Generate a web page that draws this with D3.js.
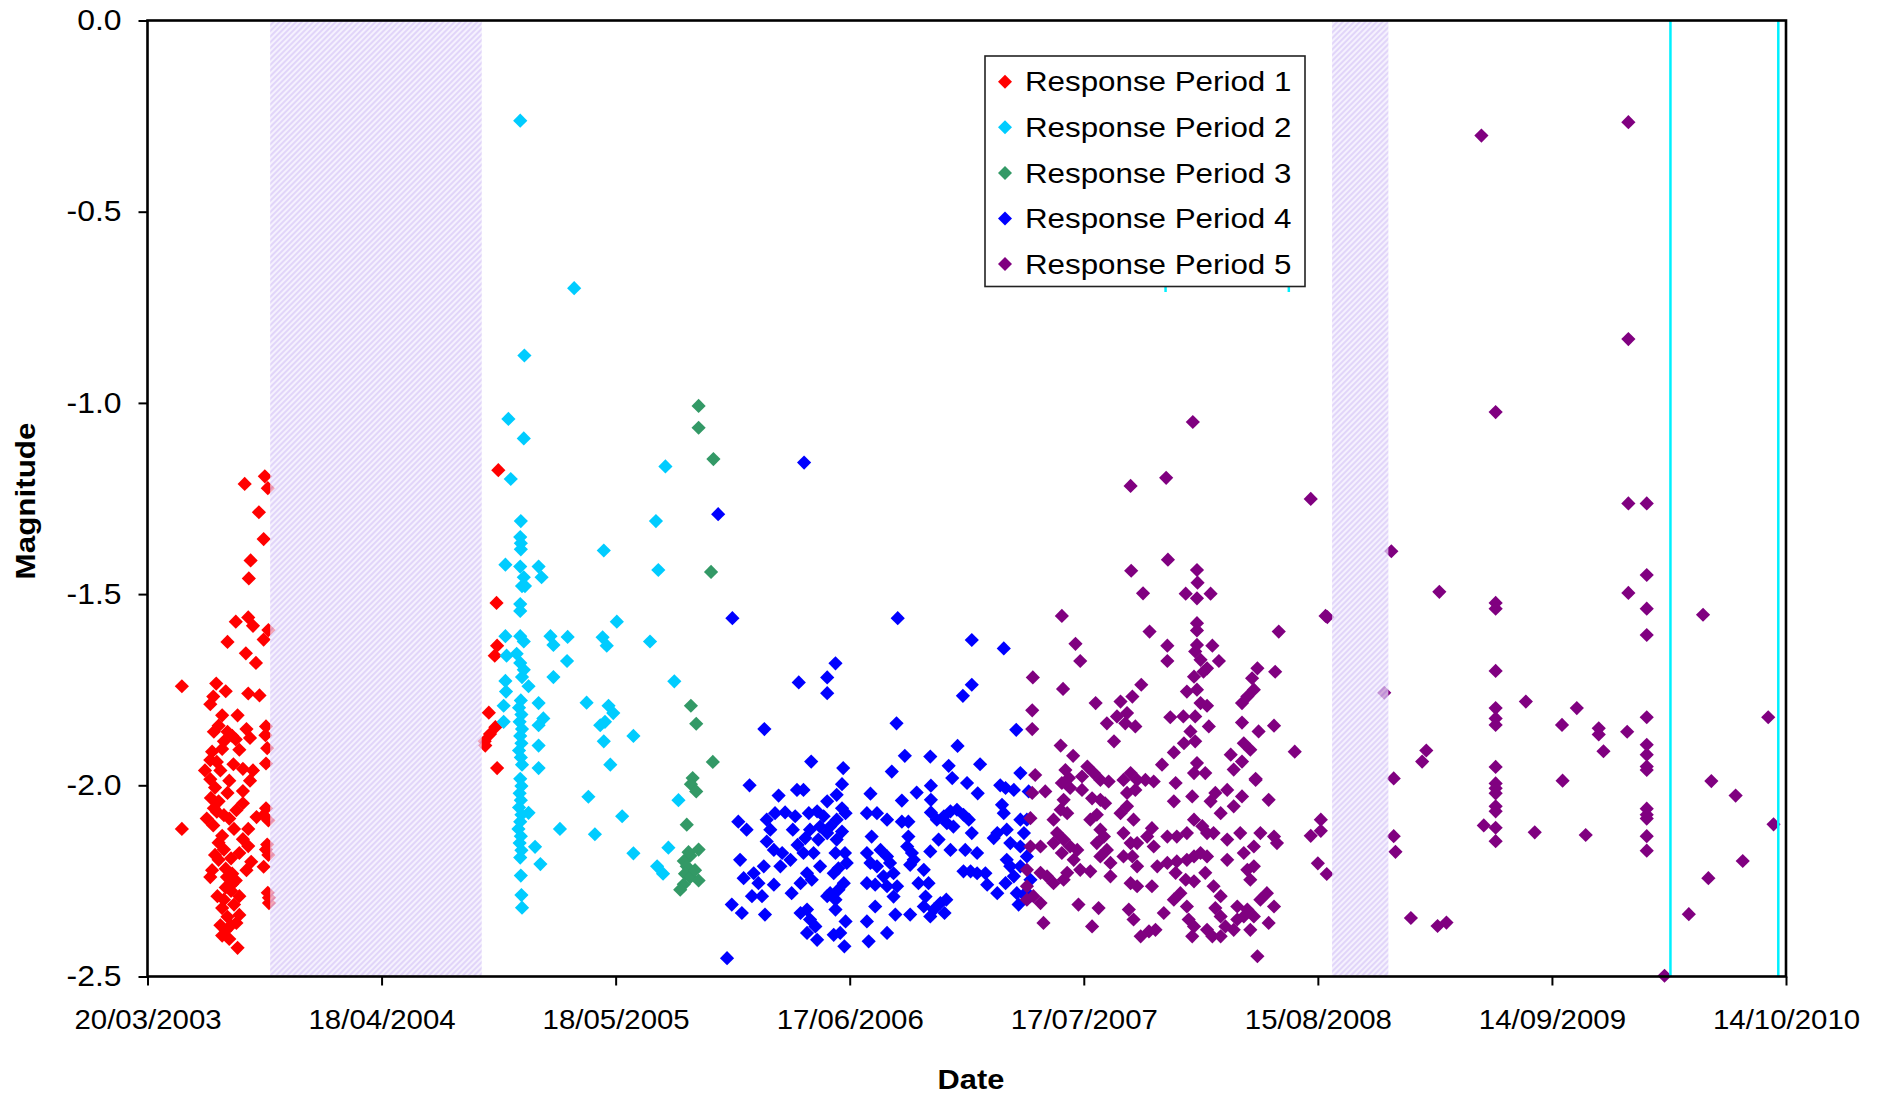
<!DOCTYPE html>
<html><head><meta charset="utf-8">
<script src="https://cdn.jsdelivr.net/npm/d3@7"></script>
<style>body{margin:0;background:#fff}svg{display:block}</style>
</head><body><svg id="c" width="1879" height="1097"></svg>
<script>
// ---- DATA (x = Excel serial date, y = magnitude) ----
const seriesNames = ["Response Period 1","Response Period 2","Response Period 3","Response Period 4","Response Period 5"];
const seriesColors = ["#ff0000","#00ccff","#339966","#0000ff","#800080"];
const xTickLabels = ["20/03/2003","18/04/2004","18/05/2005","17/06/2006","17/07/2007","15/08/2008","14/09/2009","14/10/2010"];
const yTickValues = [0,-0.5,-1,-1.5,-2,-2.5];
const shadedPeriods = [[37907,38264],[39699,39794]];
const cyanLines = [40270,40452];
const cyanMarks = [39418,39626];

const rp1 = [[37864,-1.212],[37898,-1.192],[37903,-1.223],[37888,-1.286],[37896,-1.356],[37874,-1.412],[37871,-1.459],[37849,-1.572],[37870,-1.561],[37878,-1.583],[37904,-1.594],[37896,-1.619],[37835,-1.625],[37866,-1.655],[37883,-1.680],[37758,-1.741],[37816,-1.734],[37832,-1.754],[37811,-1.768],[37806,-1.788],[37870,-1.760],[37889,-1.765],[37826,-1.817],[37852,-1.817],[37835,-1.860],[37867,-1.853],[37873,-1.876],[37900,-1.846],[37899,-1.869],[37829,-1.885],[37849,-1.880],[37809,-1.912],[37902,-1.903],[37900,-1.943],[37806,-1.934],[37823,-1.961],[37861,-1.957],[37873,-1.988],[37806,-1.984],[37814,-2.006],[37835,-2.020],[37807,-2.033],[37861,-2.047],[37800,-2.087],[37817,-2.069],[37829,-2.078],[37900,-2.060],[37884,-2.083],[37904,-2.092],[37758,-2.114],[37846,-2.114],[37870,-2.114],[37826,-2.132],[37861,-2.141],[37870,-2.159],[37902,-2.155],[37904,-2.182],[37829,-2.168],[37841,-2.191],[37875,-2.200],[37896,-2.213],[37809,-2.222],[37806,-2.240],[37832,-2.218],[37843,-2.231],[37867,-2.222],[37849,-2.249],[37841,-2.276],[37855,-2.290],[37829,-2.299],[37903,-2.281],[37905,-2.308],[37826,-2.321],[37835,-2.344],[37855,-2.339],[37841,-2.366],[37826,-2.393],[37838,-2.402],[37852,-2.425],[37820,-1.844],[37843,-1.871],[37855,-1.907],[37817,-1.939],[37838,-1.988],[37820,-2.042],[37811,-2.105],[37838,-2.087],[37820,-2.150],[37855,-2.177],[37820,-2.195],[37843,-2.258],[37832,-2.267],[37823,-2.366],[37846,-2.312],[37905,-2.294],[37900,-2.168],[37896,-2.078],[37861,-2.015],[37878,-1.961],[37797,-1.961],[37812,-1.860],[37826,-1.905],[37845,-1.945],[37812,-2.060],[37850,-2.065],[37814,-2.182],[37834,-2.240],[37818,-2.290],[37850,-2.360],[37832,-2.380],[38292,-1.176],[38289,-1.523],[38290,-1.635],[38286,-1.661],[38276,-1.810],[38287,-1.848],[38278,-1.866],[38269,-1.885],[38270,-1.896],[38290,-1.955]];

const rp2 = [[38329,-0.262],[38420,-0.700],[38336,-0.876],[38309,-1.042],[38335,-1.093],[38313,-1.199],[38574,-1.166],[38330,-1.309],[38329,-1.351],[38330,-1.367],[38330,-1.383],[38304,-1.423],[38329,-1.428],[38360,-1.428],[38365,-1.456],[38335,-1.456],[38332,-1.479],[38337,-1.479],[38329,-1.526],[38329,-1.544],[38470,-1.386],[38558,-1.309],[38562,-1.437],[38492,-1.572],[38304,-1.610],[38329,-1.610],[38335,-1.624],[38380,-1.610],[38385,-1.633],[38409,-1.612],[38468,-1.613],[38475,-1.635],[38548,-1.624],[38306,-1.661],[38323,-1.656],[38329,-1.680],[38335,-1.698],[38332,-1.717],[38343,-1.741],[38408,-1.675],[38385,-1.717],[38304,-1.727],[38305,-1.755],[38589,-1.728],[38301,-1.792],[38301,-1.834],[38360,-1.785],[38441,-1.784],[38478,-1.792],[38486,-1.811],[38464,-1.843],[38472,-1.834],[38368,-1.825],[38360,-1.843],[38520,-1.871],[38470,-1.885],[38360,-1.896],[38481,-1.946],[38360,-1.955],[38330,-1.778],[38327,-1.797],[38331,-1.815],[38328,-1.834],[38332,-1.853],[38329,-1.871],[38331,-1.890],[38327,-1.909],[38330,-1.927],[38332,-1.946],[38329,-1.983],[38331,-2.002],[38328,-2.021],[38330,-2.039],[38327,-2.058],[38331,-2.077],[38329,-2.095],[38326,-2.114],[38330,-2.133],[38328,-2.151],[38331,-2.170],[38329,-2.189],[38330,-2.236],[38331,-2.287],[38332,-2.320],[38343,-2.072],[38444,-2.030],[38396,-2.114],[38455,-2.128],[38501,-2.081],[38354,-2.161],[38363,-2.206],[38520,-2.178],[38579,-2.163],[38560,-2.212],[38570,-2.231],[38596,-2.039]];

const rp3 = [[38630,-1.008],[38630,-1.065],[38655,-1.147],[38651,-1.442],[38617,-1.792],[38626,-1.839],[38654,-1.939],[38620,-1.981],[38617,-1.997],[38626,-2.016],[38610,-2.103],[38630,-2.168],[38616,-2.184],[38605,-2.198],[38610,-2.212],[38607,-2.231],[38616,-2.240],[38630,-2.249],[38605,-2.259],[38599,-2.273],[38613,-2.175],[38624,-2.222]];

const rp4 = [[38808,-1.156],[38663,-1.291],[38687,-1.563],[38966,-1.563],[39091,-1.620],[39145,-1.642],[38861,-1.681],[38799,-1.731],[38847,-1.718],[38847,-1.759],[38741,-1.853],[38964,-1.838],[39091,-1.737],[39076,-1.766],[39166,-1.855],[39067,-1.897],[38820,-1.938],[38874,-1.955],[38956,-1.964],[38978,-1.923],[39021,-1.925],[39052,-1.949],[39105,-1.945],[39058,-1.981],[39083,-1.994],[39101,-2.021],[38716,-2.000],[38765,-2.027],[38796,-2.012],[38807,-2.012],[38872,-1.997],[38863,-2.025],[38847,-2.042],[38920,-2.022],[38973,-2.040],[38998,-2.019],[39022,-2.001],[39022,-2.038],[39022,-2.071],[38872,-2.060],[38878,-2.073],[38697,-2.095],[38711,-2.116],[38745,-2.090],[38759,-2.073],[38776,-2.071],[38793,-2.081],[38751,-2.116],[38745,-2.147],[38757,-2.169],[38816,-2.073],[38830,-2.068],[38841,-2.081],[38835,-2.108],[38818,-2.116],[38810,-2.138],[38832,-2.142],[38847,-2.125],[38852,-2.108],[38789,-2.116],[38797,-2.156],[38771,-2.177],[38785,-2.195],[38768,-2.212],[38807,-2.177],[38824,-2.177],[38835,-2.212],[38813,-2.230],[38821,-2.247],[38802,-2.256],[38863,-2.090],[38872,-2.121],[38863,-2.142],[38861,-2.177],[38877,-2.177],[38880,-2.203],[38866,-2.217],[38858,-2.230],[38875,-2.256],[38866,-2.273],[38852,-2.282],[38847,-2.290],[38861,-2.299],[38914,-2.073],[38931,-2.073],[38948,-2.090],[38973,-2.095],[38984,-2.095],[38922,-2.134],[38914,-2.177],[38937,-2.169],[38948,-2.186],[38920,-2.203],[38931,-2.212],[38953,-2.203],[38959,-2.230],[38942,-2.238],[38914,-2.256],[38928,-2.260],[38948,-2.264],[38965,-2.264],[38959,-2.291],[38984,-2.134],[38982,-2.160],[38990,-2.177],[38993,-2.195],[38987,-2.208],[39010,-2.221],[39001,-2.256],[39018,-2.256],[39013,-2.291],[39010,-2.317],[39027,-2.325],[39021,-2.343],[39038,-2.308],[39048,-2.299],[39045,-2.334],[39032,-2.090],[39044,-2.081],[39055,-2.068],[39066,-2.064],[39077,-2.077],[39086,-2.090],[39049,-2.099],[39060,-2.108],[39035,-2.142],[39021,-2.173],[39055,-2.169],[39080,-2.169],[39091,-2.125],[39100,-2.177],[39077,-2.225],[39089,-2.225],[39100,-2.230],[39114,-2.230],[39117,-2.260],[39134,-2.282],[39139,-2.000],[39148,-2.007],[39162,-2.012],[39173,-1.968],[39187,-2.016],[39142,-2.051],[39145,-2.073],[39173,-2.090],[39184,-2.090],[39179,-2.125],[39134,-2.125],[39128,-2.138],[39150,-2.116],[39156,-2.151],[39173,-2.160],[39150,-2.195],[39156,-2.212],[39173,-2.212],[39184,-2.186],[39162,-2.238],[39148,-2.256],[39167,-2.282],[39179,-2.286],[39170,-2.312],[39190,-2.247],[39190,-2.290],[38700,-2.195],[38706,-2.243],[38723,-2.230],[38740,-2.212],[38731,-2.256],[38720,-2.290],[38737,-2.290],[38686,-2.312],[38703,-2.334],[38742,-2.338],[38757,-2.260],[38787,-2.282],[38802,-2.334],[38813,-2.325],[38818,-2.351],[38827,-2.369],[38813,-2.386],[38830,-2.404],[38861,-2.325],[38878,-2.356],[38858,-2.391],[38869,-2.386],[38876,-2.421],[38914,-2.356],[38928,-2.317],[38962,-2.338],[38987,-2.338],[38948,-2.386],[38917,-2.408],[38678,-2.452]];

const rp5 = [[39464,-1.050],[39359,-1.217],[39419,-1.196],[39663,-1.251],[39422,-1.410],[39360,-1.439],[39471,-1.437],[39472,-1.470],[39380,-1.498],[39452,-1.499],[39471,-1.511],[39494,-1.499],[39243,-1.557],[39691,-1.560],[39391,-1.598],[39471,-1.576],[39471,-1.595],[39609,-1.598],[39266,-1.630],[39274,-1.675],[39471,-1.633],[39468,-1.650],[39497,-1.635],[39508,-1.675],[39488,-1.694],[39477,-1.672],[39421,-1.635],[39421,-1.675],[39194,-1.718],[39245,-1.748],[39300,-1.785],[39342,-1.781],[39362,-1.768],[39377,-1.737],[39319,-1.838],[39336,-1.820],[39353,-1.811],[39350,-1.838],[39367,-1.846],[39331,-1.885],[39193,-1.804],[39193,-1.853],[39426,-1.822],[39448,-1.820],[39468,-1.820],[39471,-1.750],[39454,-1.755],[39477,-1.785],[39488,-1.792],[39466,-1.716],[39482,-1.703],[39491,-1.846],[39460,-1.859],[39468,-1.885],[39449,-1.890],[39432,-1.914],[39573,-1.694],[39564,-1.720],[39567,-1.750],[39556,-1.768],[39547,-1.785],[39603,-1.703],[39547,-1.836],[39575,-1.859],[39601,-1.844],[39561,-1.907],[39550,-1.890],[39528,-1.920],[39547,-1.938],[39533,-1.959],[39570,-1.983],[39636,-1.912],[39241,-1.896],[39262,-1.923],[39412,-1.946],[39198,-1.973],[39215,-2.016],[39193,-2.020],[39249,-1.960],[39255,-1.981],[39243,-1.994],[39257,-2.007],[39246,-2.038],[39241,-2.064],[39252,-2.073],[39229,-2.090],[39277,-1.977],[39286,-1.951],[39297,-1.968],[39308,-1.986],[39322,-1.990],[39277,-2.012],[39294,-2.034],[39308,-2.038],[39316,-2.047],[39347,-1.986],[39359,-1.968],[39370,-1.986],[39367,-2.012],[39384,-1.986],[39398,-1.990],[39353,-2.020],[39435,-1.994],[39432,-2.042],[39463,-2.029],[39471,-1.942],[39466,-1.968],[39485,-1.968],[39502,-2.020],[39522,-2.012],[39494,-2.042],[39511,-2.073],[39533,-2.055],[39547,-2.029],[39570,-1.986],[39592,-2.038],[39190,-2.086],[39190,-2.160],[39207,-2.160],[39235,-2.125],[39229,-2.151],[39246,-2.142],[39257,-2.160],[39269,-2.169],[39263,-2.195],[39243,-2.177],[39291,-2.090],[39302,-2.077],[39308,-2.116],[39314,-2.134],[39302,-2.151],[39319,-2.169],[39325,-2.203],[39308,-2.186],[39342,-2.073],[39353,-2.055],[39364,-2.090],[39347,-2.125],[39359,-2.151],[39370,-2.151],[39362,-2.186],[39370,-2.212],[39347,-2.186],[39395,-2.112],[39398,-2.160],[39387,-2.134],[39421,-2.134],[39437,-2.134],[39454,-2.125],[39466,-2.090],[39480,-2.107],[39488,-2.125],[39499,-2.125],[39404,-2.212],[39421,-2.203],[39437,-2.199],[39454,-2.195],[39466,-2.186],[39477,-2.177],[39488,-2.186],[39522,-2.142],[39544,-2.125],[39522,-2.195],[39550,-2.177],[39567,-2.160],[39578,-2.125],[39601,-2.134],[39606,-2.151],[39556,-2.221],[39567,-2.212],[39561,-2.247],[39184,-2.221],[39207,-2.229],[39218,-2.238],[39229,-2.256],[39246,-2.247],[39252,-2.229],[39274,-2.221],[39291,-2.225],[39325,-2.238],[39359,-2.256],[39370,-2.264],[39395,-2.264],[39184,-2.264],[39195,-2.290],[39207,-2.308],[39184,-2.299],[39212,-2.360],[39271,-2.312],[39305,-2.321],[39294,-2.369],[39356,-2.325],[39364,-2.351],[39376,-2.395],[39390,-2.382],[39401,-2.378],[39415,-2.334],[39432,-2.299],[39443,-2.282],[39454,-2.317],[39457,-2.351],[39466,-2.369],[39463,-2.395],[39435,-2.229],[39452,-2.247],[39466,-2.251],[39485,-2.229],[39499,-2.264],[39511,-2.290],[39502,-2.321],[39511,-2.343],[39488,-2.378],[39497,-2.395],[39519,-2.369],[39539,-2.317],[39556,-2.325],[39578,-2.299],[39589,-2.282],[39601,-2.317],[39592,-2.360],[39567,-2.343],[39550,-2.343],[39539,-2.351],[39561,-2.378],[39573,-2.447],[39533,-2.378],[39511,-2.395],[39688,-1.557],[39663,-2.132],[39680,-2.119],[39680,-2.090],[39675,-2.204],[39690,-2.232],[39787,-1.758],[39799,-1.388],[39803,-1.982],[39803,-2.133],[39806,-2.174],[39832,-2.347],[39851,-1.938],[39858,-1.909],[39880,-1.494],[39877,-2.368],[39892,-2.359],[39951,-0.301],[39975,-1.024],[39975,-1.523],[39975,-1.538],[39975,-1.701],[39975,-1.798],[39975,-1.825],[39975,-1.842],[39975,-1.952],[39975,-1.995],[39975,-2.008],[39975,-2.021],[39975,-2.055],[39975,-2.068],[39975,-2.111],[39975,-2.146],[39955,-2.105],[40026,-1.781],[40041,-2.123],[40112,-1.798],[40087,-1.842],[40088,-1.988],[40127,-2.130],[40149,-1.851],[40149,-1.867],[40157,-1.911],[40199,-0.266],[40199,-0.833],[40199,-1.263],[40199,-1.497],[40197,-1.860],[40230,-1.263],[40230,-1.450],[40230,-1.538],[40230,-1.607],[40230,-1.822],[40230,-1.894],[40230,-1.920],[40230,-1.951],[40230,-1.960],[40230,-2.061],[40230,-2.077],[40230,-2.087],[40230,-2.133],[40230,-2.171],[40260,-2.498],[40301,-2.337],[40325,-1.554],[40339,-1.989],[40334,-2.243],[40380,-2.027],[40392,-2.198],[40435,-1.822],[40444,-2.102]];

const allSeries = [rp1, rp2, rp3, rp4, rp5];

// ---- CHART ----
const FONT = "'Liberation Sans', Arial, sans-serif";
const svg = d3.select("#c");
const plot = {left:147.5, top:20.5, right:1786, bottom:976.5};
const excelDate = s => new Date(Date.UTC(1899,11,30) + s*864e5);
const parseTick = d3.utcParse("%d/%m/%Y");
const tickDates = xTickLabels.map(parseTick);

const x = d3.scaleUtc().domain([tickDates[0], tickDates[tickDates.length-1]]).range([plot.left, plot.right]);
const y = d3.scaleLinear().domain([-2.5, 0]).range([plot.bottom, plot.top]);

const defs = svg.append("defs");
const pat = defs.append("pattern").attr("id","hatch").attr("patternUnits","userSpaceOnUse")
  .attr("width",4).attr("height",4).attr("patternTransform","rotate(45)");
pat.append("rect").attr("width",4).attr("height",4).attr("fill","#f1ebfd");
pat.append("line").attr("x1",1).attr("y1",0).attr("x2",1).attr("y2",4).attr("stroke","#cfbbf6").attr("stroke-width",1.6);

svg.append("rect").attr("x",0).attr("y",0).attr("width",1879).attr("height",1097).attr("fill","#fff");

const diamond = r => `M0,${-r}L${r},0L0,${r}L${-r},0Z`;

// points
allSeries.forEach((data, i) => {
  svg.append("g").selectAll("path").data(data).join("path")
    .attr("d", diamond(7.1))
    .attr("transform", d => `translate(${x(excelDate(d[0]))},${y(d[1])})`)
    .attr("fill", seriesColors[i]);
});

// shaded periods (drawn over points, partially transparent)
svg.append("g").selectAll("rect").data(shadedPeriods).join("rect")
  .attr("x", d => x(excelDate(d[0])))
  .attr("width", d => x(excelDate(d[1])) - x(excelDate(d[0])))
  .attr("y", plot.top).attr("height", plot.bottom - plot.top)
  .attr("fill","url(#hatch)").attr("opacity",0.72);

// cyan vertical lines
svg.append("g").selectAll("line").data(cyanLines).join("line")
  .attr("x1", d => x(excelDate(d))).attr("x2", d => x(excelDate(d)))
  .attr("y1", plot.top).attr("y2", plot.bottom)
  .attr("stroke","#00f0ff").attr("stroke-width",2.5);
svg.append("g").selectAll("line").data(cyanMarks).join("line")
  .attr("x1", d => x(excelDate(d))).attr("x2", d => x(excelDate(d)))
  .attr("y1", y(-0.45)).attr("y2", y(-0.71))
  .attr("stroke","#00f0ff").attr("stroke-width",2.5);

// axes
const yAxis = svg.append("g").attr("transform",`translate(${plot.left},0)`)
  .call(d3.axisLeft(y).tickValues(yTickValues).tickSize(9).tickPadding(17).tickFormat(d => d.toFixed(1)));
yAxis.select(".domain").remove();
yAxis.selectAll("line").attr("stroke","#000").attr("stroke-width",2);
yAxis.selectAll("text").attr("font-family",FONT).attr("font-size",29).attr("fill","#000");

const xAxis = svg.append("g").attr("transform",`translate(0,${plot.bottom})`)
  .call(d3.axisBottom(x).tickValues(tickDates).tickSize(9).tickPadding(24).tickFormat(d3.utcFormat("%d/%m/%Y")));
xAxis.select(".domain").remove();
xAxis.selectAll("line").attr("stroke","#000").attr("stroke-width",2);
xAxis.selectAll("text").attr("font-family",FONT).attr("font-size",28).attr("fill","#000");

// plot border
svg.append("rect").attr("x",plot.left).attr("y",plot.top)
  .attr("width",plot.right-plot.left).attr("height",plot.bottom-plot.top)
  .attr("fill","none").attr("stroke","#000").attr("stroke-width",2.6);

// axis titles
svg.append("text").attr("x",971).attr("y",1089).attr("text-anchor","middle")
  .attr("font-family",FONT).attr("font-weight","bold").attr("font-size",28).text("Date")
  .attr("class","stretch").attr("data-f",1.1);
svg.append("text").attr("transform","translate(35,501) rotate(-90)").attr("text-anchor","middle")
  .attr("font-family",FONT).attr("font-weight","bold").attr("font-size",28).text("Magnitude")
  .attr("class","stretch").attr("data-f",1.12);

// legend
const lg = svg.append("g");
lg.append("rect").attr("x",985).attr("y",56).attr("width",320).attr("height",230.5)
  .attr("fill","#fff").attr("stroke","#222").attr("stroke-width",1.6);
seriesNames.forEach((n,i) => {
  const cy = 81.7 + i*45.6;
  lg.append("path").attr("d",diamond(7)).attr("transform",`translate(1005,${cy})`).attr("fill",seriesColors[i]);
  lg.append("text").attr("x",1025).attr("y",cy).attr("dy","0.36em")
    .attr("font-family",FONT).attr("font-size",27).attr("fill","#000").text(n)
    .attr("class","stretch").attr("data-f",1.16);
});

// horizontal stretch of text to match reference glyph widths
yAxis.selectAll("text").attr("class","stretch").attr("data-f",1.1);
xAxis.selectAll("text").attr("class","stretch").attr("data-f",1.05);
svg.selectAll("text.stretch").each(function(){
  const f = +this.getAttribute("data-f");
  const L = this.getComputedTextLength();
  this.setAttribute("textLength", L*f);
  this.setAttribute("lengthAdjust","spacingAndGlyphs");
});
</script></body></html>
